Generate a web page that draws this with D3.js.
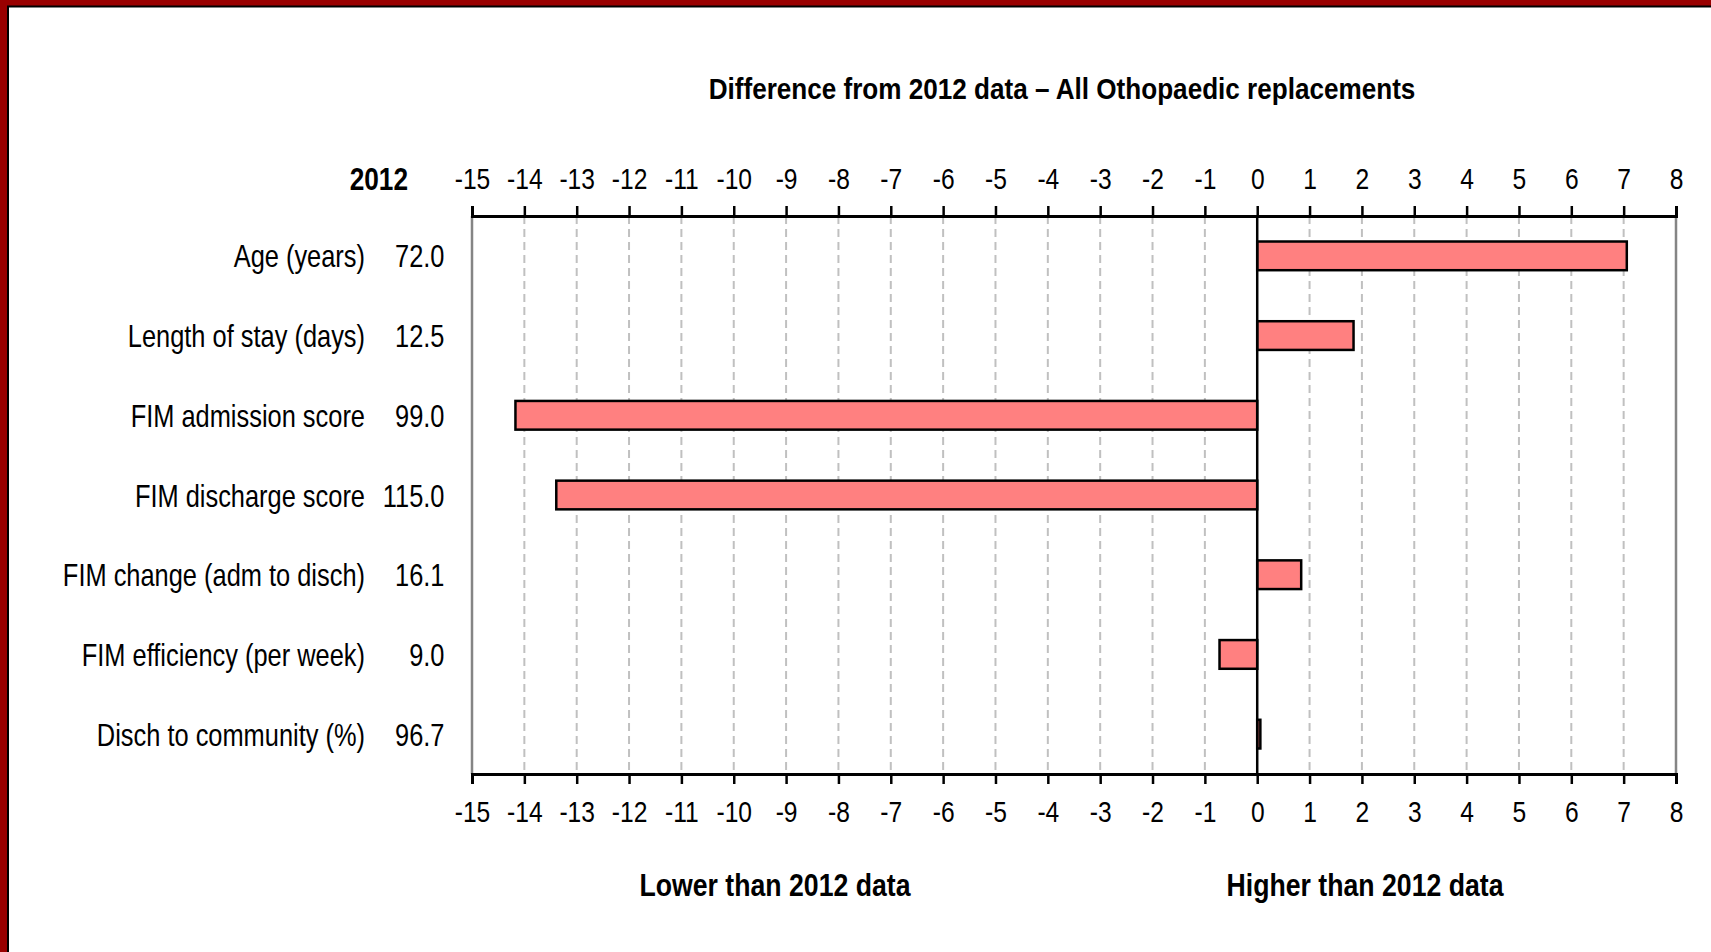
<!DOCTYPE html>
<html>
<head>
<meta charset="utf-8">
<script src="https://cdn.jsdelivr.net/npm/d3@7"></script>
<style>
  html, body { margin: 0; padding: 0; background: #fff; overflow: hidden; }
  svg { display: block; }
  text { font-family: "Liberation Sans", Arial, sans-serif; fill: #000; }
</style>
</head>
<body>
<svg id="chart" width="1711" height="952"></svg>
<script>
// ---- Data ----
const categories = [
  "Age (years)",
  "Length of stay (days)",
  "FIM admission score",
  "FIM discharge score",
  "FIM change (adm to disch)",
  "FIM efficiency (per week)",
  "Disch to community (%)"
];
const values2012 = ["72.0", "12.5", "99.0", "115.0", "16.1", "9.0", "96.7"];
const differences = [7.06, 1.84, -14.17, -13.39, 0.84, -0.72, 0.06];
const tickValues = d3.range(-15, 9);
const titleText = "Difference from 2012 data \u2013 All Othopaedic replacements";
const yearLabel = "2012";
const lowerLabel = "Lower than 2012 data";
const higherLabel = "Higher than 2012 data";

// ---- Layout ----
const W = 1711, H = 952;
const NARROW = 0.82;  // emulate Arial Narrow look
const plot = { left: 472, right: 1676, top: 216, bottom: 774 };

const svg = d3.select("#chart");

// frame
svg.append("rect").attr("x", 0).attr("y", 0).attr("width", W).attr("height", H).attr("fill", "#990000");
svg.append("rect").attr("x", 7).attr("y", 5.5).attr("width", W + 10).attr("height", H + 10).attr("fill", "#000");
svg.append("rect").attr("x", 9).attr("y", 7.5).attr("width", W + 10).attr("height", H + 10).attr("fill", "#fff");

const x = d3.scaleLinear().domain([-15, 8]).range([plot.left, plot.right]);
const y = d3.scaleBand().domain(categories).range([plot.top, plot.bottom])
  .paddingInner(0.64).paddingOuter(0.32);

function ntext(g, str, px, py, opts) {
  const t = g.append("text")
    .attr("transform", `translate(${px},${py}) scale(${opts.sx || NARROW},1)`)
    .attr("text-anchor", opts.anchor || "start")
    .attr("font-size", opts.size)
    .attr("font-weight", opts.weight || "normal")
    .text(str);
  return t;
}

// gridlines (dashed) for interior ticks
const grid = svg.append("g");
grid.selectAll("line.grid")
  .data(tickValues.filter(v => v !== -15 && v !== 0 && v !== 8))
  .join("line")
  .attr("class", "grid")
  .attr("x1", d => x(d)).attr("x2", d => x(d))
  .attr("y1", plot.top).attr("y2", plot.bottom)
  .attr("stroke", "#c0c0c0").attr("stroke-width", 2)
  .attr("stroke-dasharray", "8,5");

// plot side borders
svg.append("line").attr("x1", x(-15)).attr("x2", x(-15)).attr("y1", plot.top).attr("y2", plot.bottom)
  .attr("stroke", "#858585").attr("stroke-width", 2.5);
svg.append("line").attr("x1", x(8)).attr("x2", x(8)).attr("y1", plot.top).attr("y2", plot.bottom)
  .attr("stroke", "#858585").attr("stroke-width", 2.5);

// bars
svg.append("g").selectAll("rect.bar")
  .data(categories.map((c, i) => ({ c, v: differences[i] })))
  .join("rect")
  .attr("class", "bar")
  .attr("x", d => x(Math.min(0, d.v)))
  .attr("width", d => Math.abs(x(d.v) - x(0)))
  .attr("y", d => y(d.c))
  .attr("height", y.bandwidth())
  .attr("fill", "#ff8080")
  .attr("stroke", "#000")
  .attr("stroke-width", 2.5);

// zero line
svg.append("line").attr("x1", x(0)).attr("x2", x(0)).attr("y1", plot.top).attr("y2", plot.bottom)
  .attr("stroke", "#000").attr("stroke-width", 2.5);

// axes
function styleAxis(g, baselineOffset) {
  g.select(".domain").attr("stroke", "#000").attr("stroke-width", 3);
  g.selectAll(".tick line").attr("stroke", "#000").attr("stroke-width", 2.5);
  g.selectAll(".tick text")
    .attr("y", baselineOffset).attr("dy", null)
    .attr("font-size", 30)
    .attr("font-family", '"Liberation Sans", Arial, sans-serif')
    .attr("fill", "#000")
    .attr("transform", `scale(${NARROW},1)`);
}
const fmt = d => String(d);
const topAxis = d3.axisTop(x).tickValues(tickValues).tickSize(10).tickSizeOuter(10).tickFormat(fmt);
const gTop = svg.append("g").attr("transform", `translate(0,${plot.top})`).call(topAxis);
styleAxis(gTop, -27);

const bottomAxis = d3.axisBottom(x).tickValues(tickValues).tickSize(10).tickSizeOuter(10).tickFormat(fmt);
const gBot = svg.append("g").attr("transform", `translate(0,${plot.bottom})`).call(bottomAxis);
styleAxis(gBot, 48);

// category labels and 2012 values
const lab = svg.append("g");
categories.forEach((c, i) => {
  const cy = y(c) + y.bandwidth() / 2 + 11.5;
  ntext(lab, c, 365, cy, { anchor: "end", size: 31 });
  ntext(lab, values2012[i], 444.5, cy, { anchor: "end", size: 31 });
});
ntext(lab, yearLabel, 408, 189.5, { anchor: "end", size: 32, weight: "bold" });

// title
ntext(svg, titleText, 1062, 99, { anchor: "middle", size: 30, weight: "bold", sx: 0.87 });

// bottom labels
ntext(svg, lowerLabel, 775, 896, { anchor: "middle", size: 31, weight: "bold", sx: 0.86 });
ntext(svg, higherLabel, 1365, 896, { anchor: "middle", size: 31, weight: "bold", sx: 0.86 });
</script>
</body>
</html>
